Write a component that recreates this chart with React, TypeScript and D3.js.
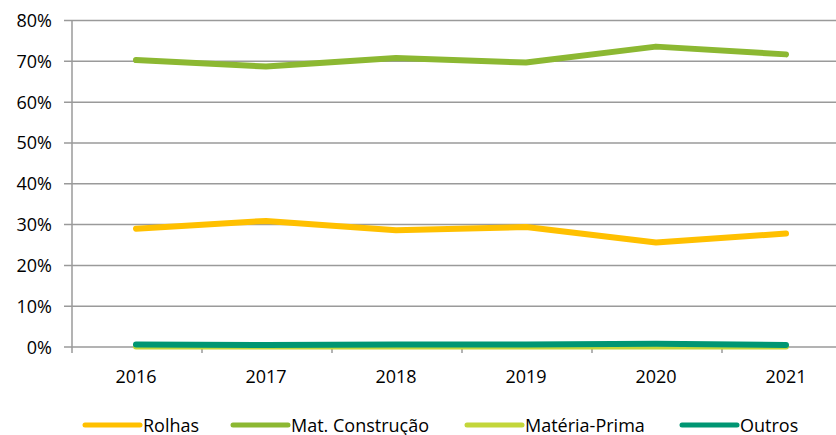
import React, { useEffect, useRef } from "react";
import * as d3 from "d3";

const years = ["2016", "2017", "2018", "2019", "2020", "2021"];
const rolhas = [29.0, 30.9, 28.6, 29.4, 25.6, 27.8];
const matConstrucao = [70.3, 68.7, 70.8, 69.7, 73.6, 71.7];
const materiaPrima = [0.1, 0.1, 0.1, 0.1, 0.1, 0.1];
const outros = [0.6, 0.5, 0.6, 0.6, 0.8, 0.5];
const yTicks = [0, 10, 20, 30, 40, 50, 60, 70, 80];

const seriesNames = ["Rolhas", "Mat. Construção", "Matéria-Prima", "Outros"];
const seriesValues = [rolhas, matConstrucao, materiaPrima, outros];
const seriesColors = ["#FFC000", "#8CB832", "#C3D63A", "#009673"];

const FONT = "'Open Sans', 'Liberation Sans', sans-serif";
const FONT_SIZE = 18;

export default function App() {
	const ref = useRef<SVGSVGElement>(null);

	useEffect(() => {
		const svg = d3.select(ref.current);
		svg.selectAll("*").remove();

		const left = 71, right = 851, top = 20.5, bottom = 347;

		const x = d3.scaleBand().domain(years).range([left, right]).padding(0);
		const y = d3.scaleLinear().domain([0, 80]).range([bottom, top]);

		// gridlines
		svg.append("g")
			.selectAll("line")
			.data(yTicks)
			.enter()
			.append("line")
			.attr("x1", left - 7)
			.attr("x2", right)
			.attr("y1", (d) => y(d))
			.attr("y2", (d) => y(d))
			.attr("stroke", "#9a9a9a")
			.attr("stroke-width", 1.5);

		// y axis line
		svg.append("line")
			.attr("x1", left + 1).attr("x2", left + 1)
			.attr("y1", top).attr("y2", bottom + 6)
			.attr("stroke", "#9a9a9a").attr("stroke-width", 1.5);

		// x ticks between categories
		const bounds = years.map((yr) => x(yr) as number).slice(1);
		svg.append("g")
			.selectAll("line")
			.data(bounds)
			.enter()
			.append("line")
			.attr("x1", (d) => d + 1).attr("x2", (d) => d + 1)
			.attr("y1", bottom).attr("y2", bottom + 6)
			.attr("stroke", "#9a9a9a").attr("stroke-width", 1.5);

		// y labels
		svg.append("g")
			.selectAll("text")
			.data(yTicks)
			.enter()
			.append("text")
			.attr("x", 52)
			.attr("y", (d) => y(d) + 6.5)
			.attr("text-anchor", "end")
			.attr("font-family", FONT)
			.attr("font-size", FONT_SIZE)
			.attr("fill", "#000")
			.text((d) => d + "%");

		// x labels
		svg.append("g")
			.selectAll("text")
			.data(years)
			.enter()
			.append("text")
			.attr("x", (d) => (x(d) as number) + x.bandwidth() / 2)
			.attr("y", 383)
			.attr("text-anchor", "middle")
			.attr("font-family", FONT)
			.attr("font-size", FONT_SIZE)
			.attr("fill", "#000")
			.text((d) => d);

		const line = d3.line<number>()
			.x((d, i) => (x(years[i]) as number) + x.bandwidth() / 2)
			.y((d) => y(d));

		seriesValues.forEach((vals, i) => {
			svg.append("path")
				.datum(vals)
				.attr("d", line)
				.attr("fill", "none")
				.attr("stroke", seriesColors[i])
				.attr("stroke-width", 6)
				.attr("stroke-linecap", "round")
				.attr("stroke-linejoin", "round");
		});

		// legend
		const legendX = [85, 233, 467, 682];
		const legend = svg.append("g");
		seriesNames.forEach((name, i) => {
			legend.append("line")
				.attr("x1", legendX[i]).attr("x2", legendX[i] + 55)
				.attr("y1", 425).attr("y2", 425)
				.attr("stroke", seriesColors[i])
				.attr("stroke-width", 5)
				.attr("stroke-linecap", "round");
			legend.append("text")
				.attr("x", legendX[i] + 58)
				.attr("y", 431.5)
				.attr("font-family", FONT)
				.attr("font-size", FONT_SIZE)
				.attr("fill", "#000")
				.text(name);
		});
	}, []);

	return (
		<svg
			ref={ref}
			width={836}
			height={435}
			style={{ position: "absolute", left: 0, top: 0, background: "#fff" }}
		/>
	);
}
